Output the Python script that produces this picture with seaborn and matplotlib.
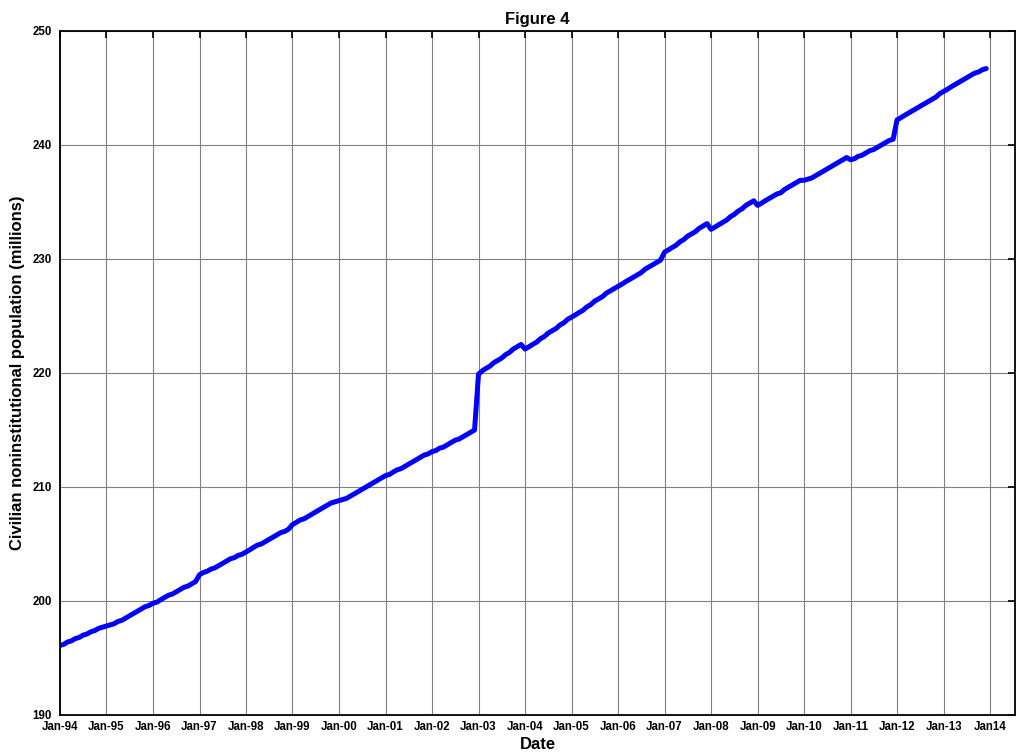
import matplotlib
matplotlib.use("Agg")
import matplotlib.pyplot as plt
import numpy as np
import pandas as pd
import seaborn as sns

# monthly values (millions), Jan 1994 - Dec 2013, one row per year
pop_rows = [
    [196.1, 196.2, 196.4, 196.5, 196.7, 196.8, 197.0, 197.1, 197.3, 197.4, 197.6, 197.7],
    [197.8, 197.9, 198.0, 198.2, 198.3, 198.5, 198.7, 198.9, 199.1, 199.3, 199.5, 199.6],
    [199.8, 199.9, 200.1, 200.3, 200.5, 200.6, 200.8, 201.0, 201.2, 201.3, 201.5, 201.7],
    [202.3, 202.5, 202.6, 202.8, 202.9, 203.1, 203.3, 203.5, 203.7, 203.8, 204.0, 204.1],
    [204.3, 204.5, 204.7, 204.9, 205.0, 205.2, 205.4, 205.6, 205.8, 206.0, 206.1, 206.3],
    [206.7, 206.9, 207.1, 207.2, 207.4, 207.6, 207.8, 208.0, 208.2, 208.4, 208.6, 208.7],
    [208.8, 208.9, 209.0, 209.2, 209.4, 209.6, 209.8, 210.0, 210.2, 210.4, 210.6, 210.8],
    [211.0, 211.1, 211.3, 211.5, 211.6, 211.8, 212.0, 212.2, 212.4, 212.6, 212.8, 212.9],
    [213.1, 213.2, 213.4, 213.5, 213.7, 213.9, 214.1, 214.2, 214.4, 214.6, 214.8, 215.0],
    [219.9, 220.2, 220.4, 220.6, 220.9, 221.1, 221.3, 221.6, 221.8, 222.1, 222.3, 222.5],
    [222.1, 222.3, 222.5, 222.7, 223.0, 223.2, 223.5, 223.7, 223.9, 224.2, 224.4, 224.7],
    [224.9, 225.1, 225.3, 225.5, 225.8, 226.0, 226.3, 226.5, 226.7, 227.0, 227.2, 227.4],
    [227.6, 227.8, 228.0, 228.2, 228.4, 228.6, 228.8, 229.1, 229.3, 229.5, 229.7, 229.9],
    [230.6, 230.8, 231.0, 231.2, 231.5, 231.7, 232.0, 232.2, 232.4, 232.7, 232.9, 233.1],
    [232.6, 232.8, 233.0, 233.2, 233.4, 233.7, 233.9, 234.2, 234.4, 234.7, 234.9, 235.1],
    [234.7, 234.9, 235.1, 235.3, 235.5, 235.7, 235.8, 236.1, 236.3, 236.5, 236.7, 236.9],
    [236.9, 237.0, 237.1, 237.3, 237.5, 237.7, 237.9, 238.1, 238.3, 238.5, 238.7, 238.9],
    [238.7, 238.8, 239.0, 239.1, 239.3, 239.5, 239.6, 239.8, 240.0, 240.2, 240.4, 240.5],
    [242.2, 242.4, 242.6, 242.8, 243.0, 243.2, 243.4, 243.6, 243.8, 244.0, 244.2, 244.5],
    [244.7, 244.9, 245.1, 245.3, 245.5, 245.7, 245.9, 246.1, 246.3, 246.4, 246.6, 246.7],
]
months = pd.date_range("1994-01-01", "2013-12-01", freq="MS")
population = [v for row in pop_rows for v in row]

tick_years = list(range(1994, 2015))
tick_labels = ["Jan-%02d" % (y % 100) for y in tick_years[:-1]] + ["Jan14"]
y_ticks = [190, 200, 210, 220, 230, 240, 250]

df = pd.DataFrame({"date": months, "pop": population})

sns.set_style("white")
plt.rcParams["font.family"] = ["Liberation Sans", "DejaVu Sans"]
plt.rcParams["font.weight"] = "bold"
plt.rcParams["text.color"] = "black"
plt.rcParams["axes.labelcolor"] = "black"
plt.rcParams["xtick.color"] = "black"
plt.rcParams["ytick.color"] = "black"

fig = plt.figure(figsize=(10.16, 7.55), dpi=100)
ax = fig.add_axes([0.059, 0.053, 0.940, 0.906])

sns.lineplot(data=df, x="date", y="pop", ax=ax, color="#0000ff", linewidth=3.6)

ax.set_xlim(pd.Timestamp("1994-01-01"), pd.Timestamp("2014-07-15"))
ax.set_ylim(190, 250)
ax.set_xticks([pd.Timestamp("%d-01-01" % y) for y in tick_years])
ax.set_xticklabels(tick_labels, fontsize=8.3, fontweight="bold")
ax.set_yticks(y_ticks)
ax.set_yticklabels([str(t) for t in y_ticks], fontsize=8.3, fontweight="bold")

ax.grid(True, color="0.5", linewidth=0.8, linestyle="-")
ax.tick_params(direction="in", length=5, width=1.2, top=True, right=True)
ax.tick_params(axis="x", pad=4.5)
ax.tick_params(axis="y", pad=6)
for s in ax.spines.values():
    s.set_linewidth(1.3)
    s.set_color("black")

ax.set_title("Figure 4", fontsize=12, fontweight="bold", pad=5)
ax.set_xlabel("Date", fontsize=12, fontweight="bold", labelpad=3)
ax.set_ylabel("Civilian noninstitutional population (millions)", fontsize=12,
              fontweight="bold", labelpad=5)

fig.savefig("out.png", dpi=100)
